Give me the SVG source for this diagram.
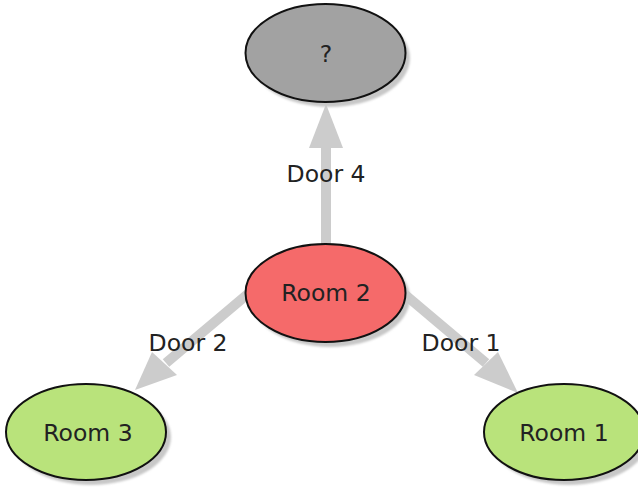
<svg xmlns="http://www.w3.org/2000/svg" width="638" height="489" viewBox="0 0 638 489">
  <style>
    .node { stroke: #111; stroke-width: 2; }
    .shadow { fill: #c8c8c8; filter: url(#soft); }
    .label { font-family: "DejaVu Sans", Verdana, sans-serif; font-size: 23.5px; fill: #222; text-anchor: middle; }
    .edge-line { stroke: #cccccc; stroke-width: 10; fill: none; }
    .edge-head { fill: #cccccc; }
  </style>
  <defs>
    <filter id="soft" x="-10%" y="-10%" width="120%" height="120%">
      <feGaussianBlur stdDeviation="1"/>
    </filter>
  </defs>
  <rect width="638" height="489" fill="#ffffff"/>

  <!-- connectors -->
  <g id="edges">
    <g id="edge-door4">
      <line class="edge-line" x1="326" y1="244" x2="326" y2="146"/>
      <polygon class="edge-head" points="326,104 309,148 343,148"/>
      <text class="label" x="326" y="182">Door 4</text>
    </g>
    <g id="edge-door2">
      <line class="edge-line" x1="249" y1="293" x2="166" y2="363"/>
      <polygon class="edge-head" points="135,390 152,352 177,375"/>
      <text class="label" x="188" y="351">Door 2</text>
    </g>
    <g id="edge-door1">
      <line class="edge-line" x1="403" y1="293" x2="486" y2="363"/>
      <polygon class="edge-head" points="518,393 498,352 474,375"/>
      <text class="label" x="461" y="351">Door 1</text>
    </g>
  </g>

  <!-- nodes -->
  <g id="node-unknown">
    <ellipse class="shadow" cx="330" cy="58" rx="80" ry="49"/>
    <ellipse class="node" cx="325.5" cy="53" rx="80" ry="49" fill="#a2a2a2"/>
    <text class="label" x="326" y="62">?</text>
  </g>
  <g id="node-room2">
    <ellipse class="shadow" cx="330" cy="298" rx="80" ry="49"/>
    <ellipse class="node" cx="325.5" cy="293" rx="80" ry="49" fill="#f56a6a"/>
    <text class="label" x="326" y="301">Room 2</text>
  </g>
  <g id="node-room3">
    <ellipse class="shadow" cx="91" cy="437" rx="80" ry="48"/>
    <ellipse class="node" cx="86" cy="432" rx="80" ry="48" fill="#b9e37b"/>
    <text class="label" x="88" y="441">Room 3</text>
  </g>
  <g id="node-room1">
    <ellipse class="shadow" cx="569" cy="437" rx="80" ry="48"/>
    <ellipse class="node" cx="564" cy="432" rx="80" ry="48" fill="#b9e37b"/>
    <text class="label" x="564" y="441">Room 1</text>
  </g>
</svg>
